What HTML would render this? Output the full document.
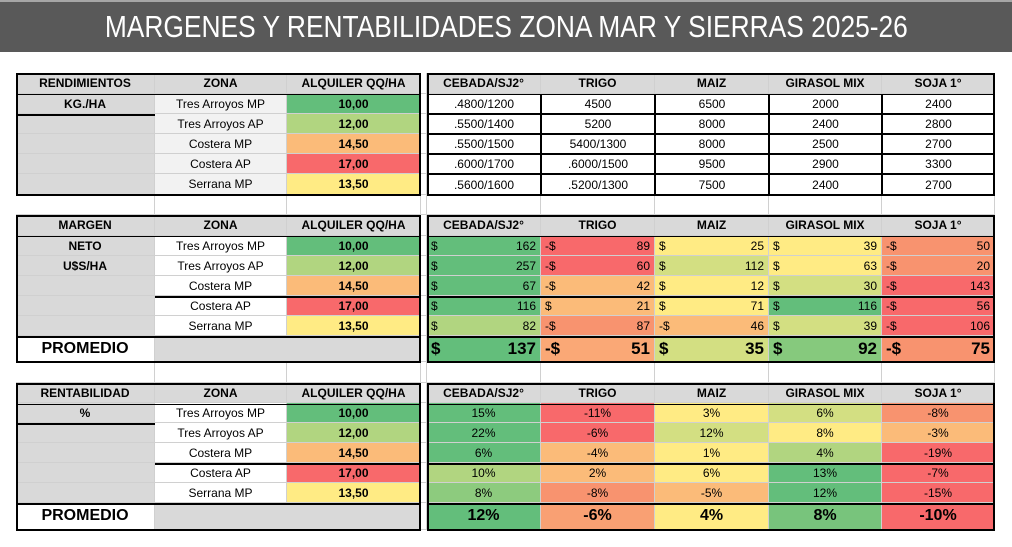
<!DOCTYPE html>
<html><head><meta charset="utf-8"><style>
body{margin:0;width:1012px;height:547px;background:#fff;position:relative;overflow:hidden;font-family:"Liberation Sans",sans-serif;}
.c{position:absolute;box-sizing:border-box;font-size:12px;color:#000;display:flex;align-items:center;justify-content:center;white-space:nowrap;overflow:hidden;border-right:1px solid #d0d0d0;border-bottom:1px solid #d0d0d0;}
.b{font-weight:bold}
.ln{position:absolute;background:#000}
#title{position:absolute;left:0;top:0;width:1012px;height:52px;background:#595959;border-top:2px solid #a6a6a6;box-sizing:border-box;color:#fff;display:flex;align-items:center;justify-content:center;font-size:31px;}
#title span{display:inline-block;transform:scaleX(0.85);}
</style></head><body>
<div id="title"><span>MARGENES Y RENTABILIDADES ZONA MAR Y SIERRAS 2025-26</span></div>
<div id="grid"></div>
<script>
const crops=["CEBADA/SJ2°","TRIGO","MAIZ","GIRASOL MIX","SOJA 1°"];
const zonas=["Tres Arroyos MP","Tres Arroyos AP","Costera MP","Costera AP","Serrana MP"];
const alquiler=["10,00","12,00","14,50","17,00","13,50"];
const rend=[[".4800/1200","4500","6500","2000","2400"],[".5500/1400","5200","8000","2400","2800"],[".5500/1500","5400/1300","8000","2500","2700"],[".6000/1700",".6000/1500","9500","2900","3300"],[".5600/1600",".5200/1300","7500","2400","2700"]];
const margen=[[162,-89,25,39,-50],[257,-60,112,63,-20],[67,-42,12,30,-143],[116,21,71,116,-56],[82,-87,-46,39,-106]];
const margenProm=[137,-51,35,92,-75];
const rent=[[15,-11,3,6,-8],[22,-6,12,8,-3],[6,-4,1,4,-19],[10,2,6,13,-7],[8,-8,-5,12,-15]];
const rentProm=[12,-6,4,8,-10];
const G="#63BE7B",LG="#B1D580",YG="#D3DF82",Y="#FFEB84",O="#FBBB79",OR="#F8936F",R="#F8696B";
const alqCol=[G,LG,O,R,Y];
const mCol=[[G,R,Y,Y,OR],[G,R,YG,Y,OR],[G,O,Y,YG,R],[G,O,Y,G,R],[LG,OR,O,YG,R]];
const mPromCol=[G,"#FAA876",YG,"#86C97D",OR];
const rCol=[[G,R,Y,YG,OR],[G,R,YG,Y,O],[G,O,Y,LG,R],[LG,O,Y,G,R],["#8DCB7E",OR,O,G,R]];
const rPromCol=[G,"#F9A073",Y,"#78C47C",R];
const X=[16,155,287,421,427,541,655,769,882,995];
const grid=document.getElementById('grid');
function cell(x1,x2,y1,y2,txt,bg,cls,name,align){
 const d=document.createElement('div');
 
 
 d.className='c '+(cls||'');
 d.style.cssText=`left:${x1}px;top:${y1}px;width:${x2-x1}px;height:${y2-y1}px;background:${bg||'#fff'};`;
 if(align)d.style.justifyContent=align;
 d.textContent=txt;grid.appendChild(d);return d;}
function money(x1,x2,y1,y2,v,bg,big,name){
 const d=cell(x1,x2,y1,y2,'',bg,big?'b':'',name,'space-between');
 d.style.padding='0 4px';if(big)d.style.fontSize='17px';
 const a=document.createElement('span');a.textContent=(v<0?'-$':'$');
 const b=document.createElement('span');b.textContent=Math.abs(v);
 d.appendChild(a);d.appendChild(b);}
function line(x,y,w,h){const d=document.createElement('div');d.className='ln';
 
 
 d.style.cssText=`left:${x}px;top:${y}px;width:${w}px;height:${h}px`;grid.appendChild(d);}
function header(y1,y2,first){
 cell(X[0],X[1],y1,y2,first,'#D9D9D9','b','section-header');
 cell(X[1],X[2],y1,y2,'ZONA','#D9D9D9','b','zona-header');
 cell(X[2],X[3],y1,y2,'ALQUILER QQ/HA','#D9D9D9','b','alquiler-header');
 cell(X[3],X[4],y1,y2,'','#fff','','gap-cell');
 crops.forEach((c,i)=>cell(X[4+i],X[5+i],y1,y2,c,'#D9D9D9','b','crop-header'));}
function leftRows(Y,labels,zbg){
 for(let r=0;r<5;r++){
  cell(X[0],X[1],Y[r],Y[r+1],labels[r]||'','#D9D9D9','b','row-label');
  cell(X[1],X[2],Y[r],Y[r+1],zonas[r],zbg,'','zona-name');
  cell(X[2],X[3],Y[r],Y[r+1],alquiler[r],alqCol[r],'b','alquiler-value');
  cell(X[3],X[4],Y[r],Y[r+1],'','#fff','','gap-cell');}}
function blank(y1,y2){for(let i=0;i<9;i++)cell(X[i],X[i+1],y1,y2,'','#fff','','blank-cell');}
// table 1
const T1=[73,94,114,134,154,174,195];
header(T1[0],T1[1],'RENDIMIENTOS');
leftRows(T1.slice(1),['KG./HA'],'#F2F2F2');
for(let r=0;r<5;r++)for(let i=0;i<5;i++){const d=cell(X[4+i],X[5+i],T1[r+1],T1[r+2],rend[r][i],'#fff','','yield-value');d.style.border='1px solid #000';}
blank(195,215);
// table 2
const T2=[215,236,256,276,296,316,336,362];
header(T2[0],T2[1],'MARGEN');
leftRows(T2.slice(1),['NETO','U$S/HA'],'#fff');
for(let r=0;r<5;r++)for(let i=0;i<5;i++)money(X[4+i],X[5+i],T2[r+1],T2[r+2],margen[r][i],mCol[r][i],false,'margin-value');
cell(X[0],X[1],336,362,'PROMEDIO','#fff','b','promedio-label').style.fontSize='16px';
cell(X[1],X[3],336,362,'','#D9D9D9','','promedio-blank');
cell(X[3],X[4],336,362,'','#fff','','gap-cell');
for(let i=0;i<5;i++)money(X[4+i],X[5+i],336,362,margenProm[i],mPromCol[i],true,'margin-average');
blank(362,383);
// table 3
const T3=[383,403,423,443,463,483,503,530];
header(T3[0],T3[1],'RENTABILIDAD');
leftRows(T3.slice(1),['%'],'#fff');
for(let r=0;r<5;r++)for(let i=0;i<5;i++)cell(X[4+i],X[5+i],T3[r+1],T3[r+2],rent[r][i]+'%',rCol[r][i],'','rent-value');
cell(X[0],X[1],503,530,'PROMEDIO','#fff','b','promedio-label').style.fontSize='16px';
cell(X[1],X[3],503,530,'','#D9D9D9','','promedio-blank');
cell(X[3],X[4],503,530,'','#fff','','gap-cell');
for(let i=0;i<5;i++){const d=cell(X[4+i],X[5+i],503,530,rentProm[i]+'%',rPromCol[i],'b','rent-average');d.style.fontSize='16px';}
// thick borders
[[73,195],[215,362],[383,530]].forEach(([a,b])=>{
 line(16,a,405,2);line(16,b-1,405,2);line(16,a,2,b-a);line(419,a,2,b-a+1);
 line(427,a,568,2);line(427,b-1,568,2);line(427,a,2,b-a);line(993,a,2,b-a+1);
 line(16,a+21,405,1);line(427,a+21,568,1);});
line(16,114,139,2);line(16,423,139,2);
line(16,336,405,2);line(427,336,568,2);line(16,503,405,2);line(427,503,568,2);
line(155,463,266,2);line(427,463,568,2);line(155,296,266,2);line(427,296,568,2);
</script>
</body></html>
